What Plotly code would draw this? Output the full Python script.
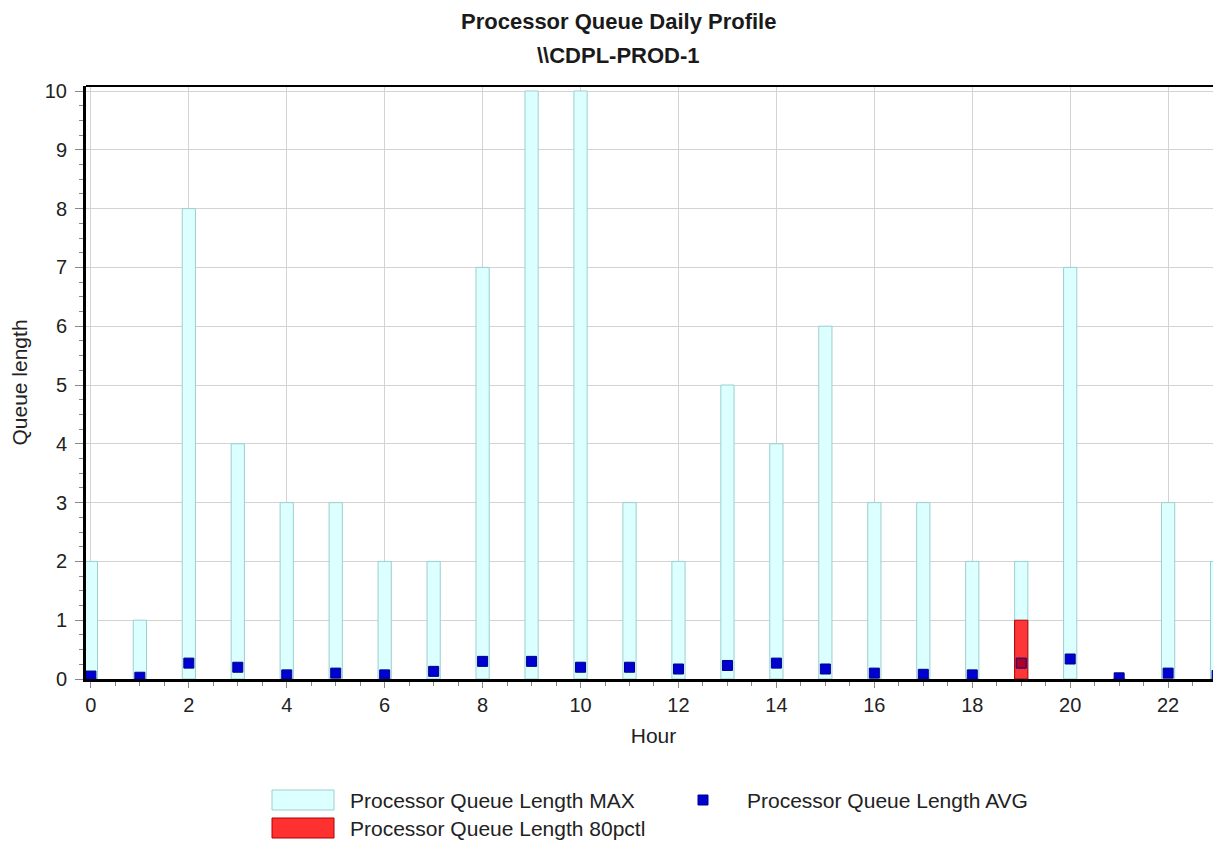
import plotly.graph_objects as go

hours = list(range(24))
q_max = [2, 1, 8, 4, 3, 3, 2, 2, 7, 10, 10, 3, 2, 5, 4, 6, 3, 3, 2, 2, 7, 0, 3, 2]
q_p80 = [0, 0, 0, 0, 0, 0, 0, 0, 0, 0, 0, 0, 0, 0, 0, 0, 0, 0, 0, 1, 0, 0, 0, 0]
q_avg = [0.05, 0.03, 0.27, 0.2, 0.07, 0.1, 0.07, 0.13, 0.3, 0.3, 0.2, 0.2, 0.17,
         0.23, 0.27, 0.17, 0.1, 0.08, 0.07, 0.27, 0.34, 0.02, 0.1, 0.06]
name_max = "Processor Queue Length MAX"
name_avg = "Processor Queue Length AVG"
name_p80 = "Processor Queue Length 80pctl"
title_line1 = "Processor Queue Daily Profile"
title_line2 = "\\\\CDPL-PROD-1"
x_ticks = list(range(0, 24, 2))

FONT = "Liberation Sans, Arial, sans-serif"
CYAN_FILL = "#DCFFFF"
CYAN_LINE = "#9CCFCF"
RED_FILL = "rgba(255,40,40,0.93)"
RED_LINE = "#B00000"
BLUE = "#0000D0"

# page offset (body margin) and plot area in page pixels
OFF = 8
W, H = 1221, 844
L, T, R, B = 86 - OFF, 86 - OFF, 1221 - OFF, 679 - OFF

fig = go.Figure()
fig.add_trace(go.Bar(x=hours, y=q_max, name=name_max, width=0.27,
                     marker=dict(color=CYAN_FILL, line=dict(color=CYAN_LINE, width=1)),
                     showlegend=False))
fig.add_trace(go.Bar(x=hours, y=[v if v else None for v in q_p80], name=name_p80, width=0.27,
                     marker=dict(color=RED_FILL, line=dict(color=RED_LINE, width=1)),
                     showlegend=False))
avg_colors = [("#B0002A" if p > 0 else BLUE) for p in q_p80]
fig.add_trace(go.Scatter(x=hours, y=q_avg, name=name_avg, mode="markers",
                         marker=dict(symbol="square", size=10, color=avg_colors,
                                     line=dict(color="#00008A", width=1)),
                         showlegend=False))

fig.update_layout(
    width=W, height=H,
    paper_bgcolor="white", plot_bgcolor="white",
    barmode="overlay",
    margin=dict(l=L, r=W - R, t=T, b=H - B, autoexpand=False),
    font=dict(family=FONT, size=16, color="#222"),
    xaxis=dict(range=[-0.1, 23.08], tickvals=x_ticks, ticks="outside", ticklen=6,
               tickcolor="#888", showgrid=True, gridcolor="#d3d3d3", gridwidth=1,
               showline=True, linecolor="black", linewidth=3, mirror=False,
               zeroline=False, automargin=False,
               minor=dict(dtick=0.5, tick0=0, ticks="outside", ticklen=4, tickcolor="#888", showgrid=False),
               title=dict(text="Hour", font=dict(size=21), standoff=14),
               tickfont=dict(size=20)),
    yaxis=dict(range=[0, 10.085], dtick=1, ticks="outside", ticklen=8,
               tickcolor="#888", showgrid=True, gridcolor="#d3d3d3", gridwidth=1,
               showline=True, linecolor="black", linewidth=3, mirror=False,
               zeroline=False, automargin=False, ticklabelstandoff=4,
               minor=dict(dtick=0.25, ticks="outside", ticklen=4, tickcolor="#888", showgrid=False),
               title=dict(text="Queue length", font=dict(size=21), standoff=12),
               tickfont=dict(size=20)),
)

def px_x(p):
    return (p - OFF - L) / (R - L)

def px_y(p):
    return (B - (p - OFF)) / (B - T)

# title lines (page pixel positions)
for txt, yy in [(title_line1, 22), (title_line2, 55)]:
    fig.add_annotation(text="<b>" + txt + "</b>", xref="paper", yref="paper",
                       x=px_x(618), y=px_y(yy), xanchor="center", yanchor="middle",
                       showarrow=False, font=dict(family=FONT, size=22, color="#1a1a1a"))

# top border line
fig.add_shape(type="line", xref="paper", yref="paper", x0=0, x1=1, y0=1, y1=1,
              line=dict(color="black", width=2))

# custom legend (page pixel positions)
legend_items = [
    (CYAN_FILL, CYAN_LINE, name_max, 272, 790, 334, 810, 348),
    ("#FF3030", RED_LINE, name_p80, 272, 818, 334, 838, 348),
    (BLUE, "#00008A", name_avg, 698, 795, 708, 805, 745),
]
for fill, line, label, x0, y0, x1, y1, tx in legend_items:
    fig.add_shape(type="rect", xref="paper", yref="paper",
                  x0=px_x(x0), x1=px_x(x1), y0=px_y(y0), y1=px_y(y1),
                  fillcolor=fill, line=dict(color=line, width=1))
    fig.add_annotation(text=label, xref="paper", yref="paper",
                       x=px_x(tx), y=px_y((y0 + y1) / 2), xanchor="left", yanchor="middle",
                       showarrow=False, font=dict(family=FONT, size=21, color="#222"))

fig.write_html("out.html")
